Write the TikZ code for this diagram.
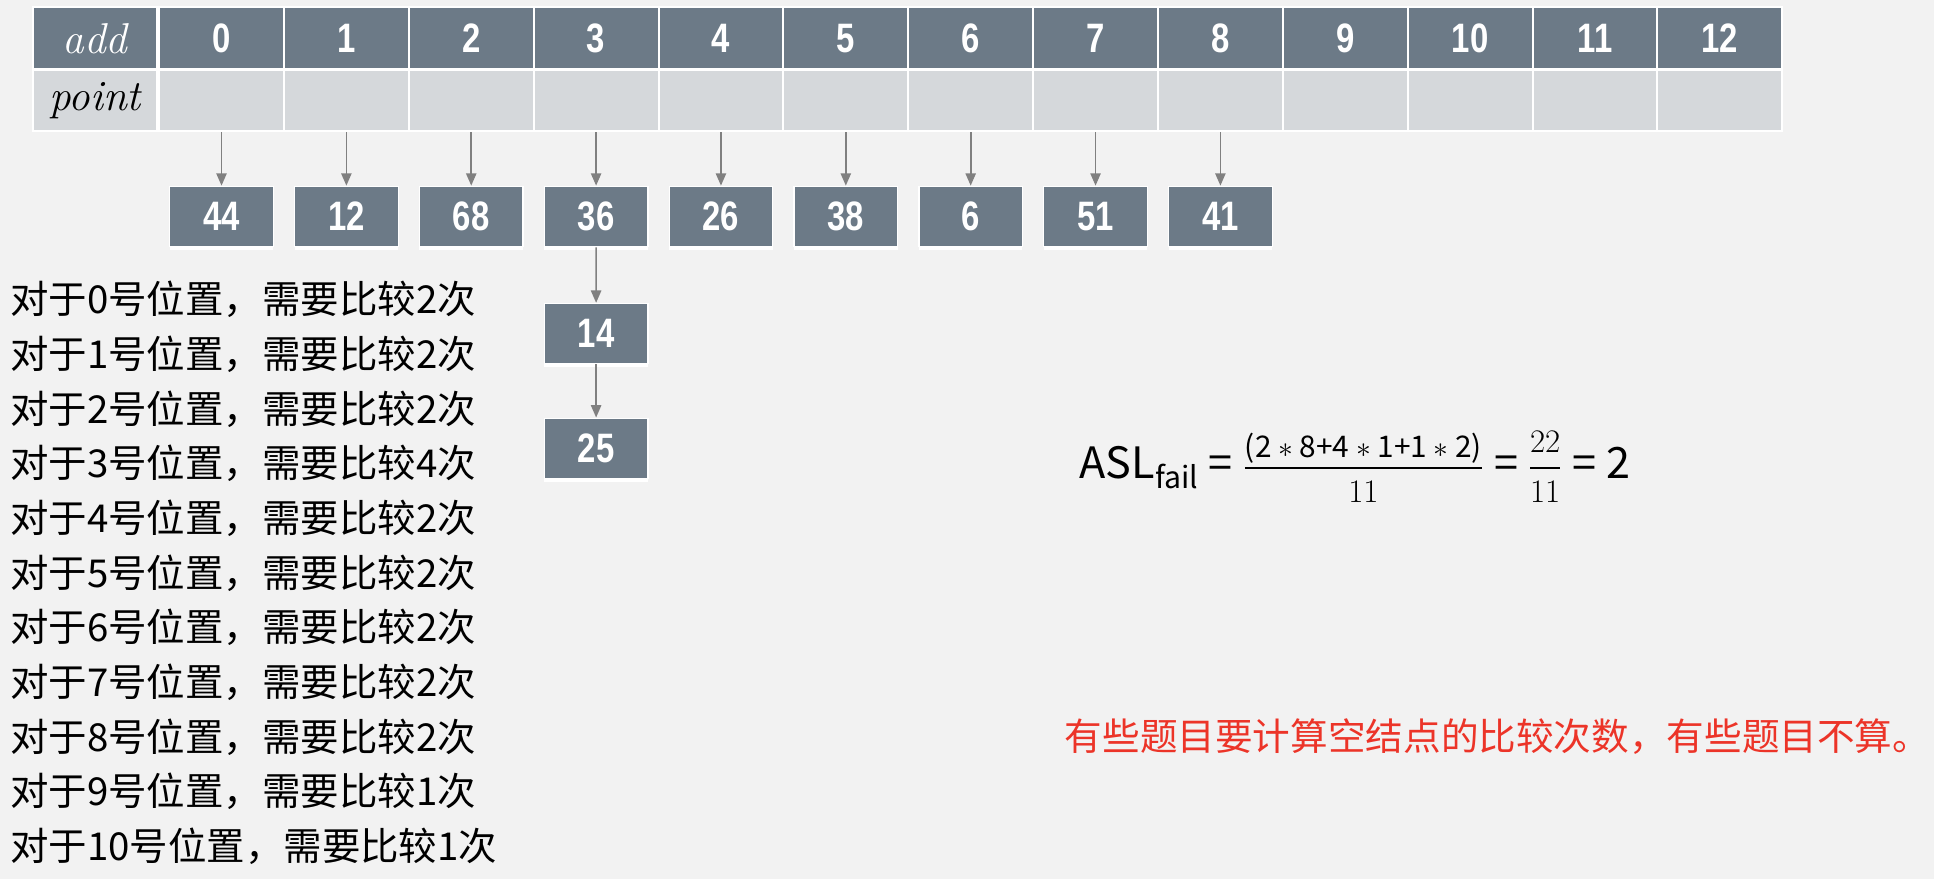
\documentclass[tikz,border=0pt]{standalone}
\usepackage{amsmath}
\usepackage{fontspec}
\newfontfamily\cjk{Noto Sans CJK SC}
\newfontfamily\numfont[FakeStretch=0.8,BoldFeatures={FakeStretch=0.8}]{Liberation Sans}
\usetikzlibrary{positioning,arrows.meta,shadows}
\definecolor{slate}{RGB}{108,122,135}
\definecolor{cellgray}{RGB}{213,216,219}
\definecolor{bggray}{RGB}{242,242,242}
\definecolor{arrowgray}{RGB}{128,128,128}
\definecolor{notered}{RGB}{236,52,40}
\newcommand{\fracnum}[1]{\raisebox{2pt}{\fontsize{14.5}{16}\selectfont #1}}
\newcommand{\fracden}[1]{\raisebox{-4.5pt}{\rmfamily\fontsize{16}{18}\selectfont #1}}

\begin{document}
\begin{tikzpicture}[x=0.6pt, y=-0.6pt, >={Triangle[length=6pt, width=5pt]},
  cell/.style={draw=white, line width=0.9pt, inner sep=0pt, minimum width=60.7pt, minimum height=30pt},
  head/.style={cell, fill=slate, text=white, font=\numfont\bfseries\fontsize{20}{22}\selectfont},
  ptr/.style={cell, fill=cellgray},
  tag/.style={cell, minimum width=60pt, font=\fontsize{21}{22}\selectfont\itshape},
  val/.style={draw=white, line width=0.6pt, fill=slate, text=white, inner sep=0pt,
    minimum width=50.4pt, minimum height=29.4pt, font=\numfont\bfseries\fontsize{20}{22}\selectfont,
    drop shadow={shadow xshift=0pt, shadow yshift=-1.5pt, fill=white, opacity=1}},
  link/.style={->, draw=arrowgray, line width=0.8pt},
  countline/.style={anchor=west, inner sep=0pt, font=\cjk\fontsize{18.7}{20}\selectfont}]
\fill[bggray] (0,0) rectangle (1568,713);
\useasboundingbox (0,0) rectangle (1568,713);

% table head
\node[tag, fill=slate, text=white] (add) at (77,31) {add};
\node[tag, fill=cellgray] (point) at (77,81.5) {point};
\foreach \i in {0,...,12} {
  \node[head] (h\i) at (179.6+101.23*\i, 31) {\i};
  \node[ptr] (p\i) at (179.6+101.23*\i, 81.5) {};
}

% chains
\foreach \i/\v in {0/44,1/12,2/68,3/36,4/26,5/38,6/6,7/51,8/41} {
  \node[val] (v\i) at (179.6+101.23*\i, 175.5) {\v};
  \draw[link] (p\i.south) -- (v\i.north);
}
\node[val] (v3b) at (483.3,270.5) {14};
\node[val] (v3c) at (483.3,363.5) {25};
\draw[link] (v3.south) -- (v3b.north);
\draw[link] (v3b.south) -- (v3c.north);

% counts
\foreach \n/\m [count=\k from 0] in {0/2,1/2,2/2,3/4,4/2,5/2,6/2,7/2,8/2,9/1,10/1}
  \node[countline] (r\n) at (8, 243+44.3*\k) {对于\n 号位置，需要比较\m 次};

\node[anchor=base west, inner sep=0pt, font=\cjk\fontsize{21}{24}\selectfont] (asl) at (875,388)
  {ASL\textsubscript{fail} = $\frac{\fracnum{(2 $*$ 8+4 $*$ 1+1 $*$ 2)}}{\fracden{11}}$ = $\frac{\fracden{\raisebox{6.5pt}{22}}}{\fracden{11}}$ = 2};
\node[anchor=west, inner sep=0pt, text=notered, font=\cjk\fontsize{18.3}{20}\selectfont] (note) at (863,597)
  {有些题目要计算空结点的比较次数，有些题目不算。};
\end{tikzpicture}
\end{document}
